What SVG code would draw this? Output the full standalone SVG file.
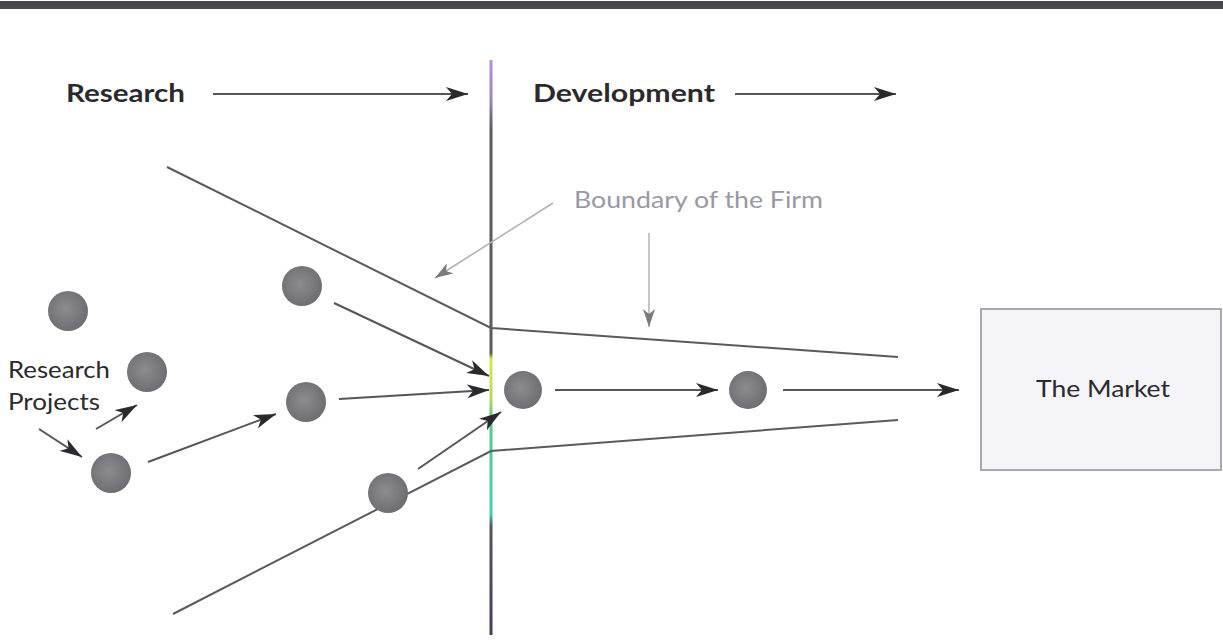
<svg xmlns="http://www.w3.org/2000/svg" width="1223" height="643" viewBox="0 0 1223 643">
<style>
.lbl{font-family:Lato,"Liberation Sans",sans-serif;fill:#2a2a2e}
.hd{font-weight:bold;font-size:24px}
.ln{stroke:#5a5a5e;stroke-width:2;fill:none}
.ar{stroke:#55555a;stroke-width:2;fill:none;marker-end:url(#ah)}
.gar{stroke:#b0b0b4;stroke-width:1.5;fill:none;marker-end:url(#gh)}
.dot{fill:url(#dg)}
</style>
<defs>
<radialGradient id="dg" cx="0.45" cy="0.45" r="0.6">
<stop offset="0" stop-color="#8c8c90"/>
<stop offset="1" stop-color="#6c6c70"/>
</radialGradient>
<linearGradient id="vg" x1="0" y1="60" x2="0" y2="635" gradientUnits="userSpaceOnUse">
<stop offset="0" stop-color="#b58ee6"/>
<stop offset="0.07" stop-color="#9a84b8"/>
<stop offset="0.12" stop-color="#5a5a60"/>
<stop offset="0.51" stop-color="#5a5a60"/>
<stop offset="0.52" stop-color="#d9e84a"/>
<stop offset="0.59" stop-color="#b8d860"/>
<stop offset="0.62" stop-color="#58c88a"/>
<stop offset="0.79" stop-color="#40d0b0"/>
<stop offset="0.81" stop-color="#55555c"/>
<stop offset="1" stop-color="#4a3a5a"/>
</linearGradient>
<marker id="ah" markerUnits="userSpaceOnUse" markerWidth="24" markerHeight="14" refX="22" refY="7" orient="auto">
<path d="M0,0 L22,7 L0,14 L6,7 z" fill="#2a2a2e"/>
</marker>
<marker id="gh" markerUnits="userSpaceOnUse" markerWidth="20" markerHeight="12" refX="18" refY="6" orient="auto">
<path d="M0,0 L18,6 L0,12 L5,6 z" fill="#7a7a7e"/>
</marker>
</defs>
<rect x="0" y="0" width="1223" height="643" fill="#ffffff"/>
<rect x="0" y="1" width="1223" height="8" fill="#48484e"/>

<g id="boundary-line">
<line x1="491" y1="60" x2="491" y2="635" stroke="url(#vg)" stroke-width="3"/>
</g>

<g id="funnel">
<polyline class="ln" points="167,167 491,328 898,357"/>
<polyline class="ln" points="173,614 491,451 898,420"/>
</g>

<g id="connectors">
<line class="ar" x1="213" y1="94" x2="468" y2="94"/>
<line class="ar" x1="735" y1="94" x2="896" y2="94"/>
<line class="ar" x1="39" y1="429" x2="82" y2="457"/>
<line class="ar" x1="96" y1="429" x2="137" y2="405"/>
<line class="ar" x1="148" y1="462" x2="276" y2="414"/>
<line class="ar" x1="334" y1="303" x2="489" y2="376"/>
<line class="ar" x1="339" y1="399" x2="489" y2="390"/>
<line class="ar" x1="418" y1="469" x2="501" y2="412"/>
<line class="ar" x1="555" y1="390" x2="718" y2="390"/>
<line class="ar" x1="783" y1="390" x2="959" y2="390"/>
<line class="gar" x1="553" y1="203" x2="435" y2="278"/>
<line class="gar" x1="649" y1="233" x2="649" y2="327"/>
</g>

<g id="labels">
<text class="lbl hd" x="66" y="102" textLength="119" lengthAdjust="spacingAndGlyphs">Research</text>
<text class="lbl hd" x="533" y="102" textLength="182" lengthAdjust="spacingAndGlyphs">Development</text>
<text class="lbl" x="574" y="208" font-size="23" textLength="249" lengthAdjust="spacingAndGlyphs" style="fill:#9a98a4">Boundary of the Firm</text>
<text class="lbl" x="8" y="378" font-size="23" textLength="102" lengthAdjust="spacingAndGlyphs">Research</text>
<text class="lbl" x="8" y="410" font-size="23" textLength="92" lengthAdjust="spacingAndGlyphs">Projects</text>
</g>

<g id="projects">
<circle class="dot" cx="68" cy="311" r="20"/>
<circle class="dot" cx="147" cy="372" r="20"/>
<circle class="dot" cx="111" cy="473" r="20"/>
<circle class="dot" cx="302" cy="286" r="20"/>
<circle class="dot" cx="306" cy="402" r="20"/>
<circle class="dot" cx="388" cy="493" r="20"/>
<circle class="dot" cx="523" cy="390" r="19"/>
<circle class="dot" cx="748" cy="390" r="19"/>
</g>

<g id="market">
<rect x="981" y="309" width="240" height="161" fill="#f5f4f8" stroke="#a8a8ae" stroke-width="2"/>
<text class="lbl" x="1036" y="397" font-size="24" textLength="134" lengthAdjust="spacingAndGlyphs">The Market</text>
</g>
</svg>
